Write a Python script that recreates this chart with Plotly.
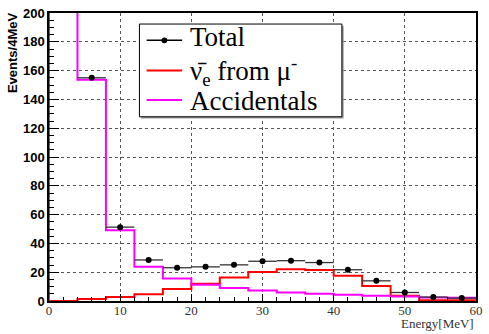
import plotly.graph_objects as go

# Energy binning: 15 bins of 4 MeV from 0 to 60 MeV
bin_edges = [0, 4, 8, 12, 16, 20, 24, 28, 32, 36, 40, 44, 48, 52, 56, 60]

# Events per 4 MeV bin
nue_from_mu = [0.0, 1.4, 2.7, 4.7, 8.4, 12.0, 16.3, 20.1, 22.0, 21.6, 17.6, 10.4, 3.6, 0.6, 0.6]
accidentals = [300.0, 153.7, 49.1, 23.7, 15.6, 11.3, 9.1, 7.3, 5.9, 5.0, 4.3, 3.6, 3.2, 2.4, 2.2]
total = [300.0, 155.0, 51.3, 28.5, 23.1, 23.7, 25.1, 27.6, 28.0, 26.7, 21.7, 14.0, 5.9, 2.7, 2.0]

x_ticks = [0, 10, 20, 30, 40, 50, 60]
y_ticks = [0, 20, 40, 60, 80, 100, 120, 140, 160, 180, 200]

legend_labels = ["Total", "ν\u0304<sub>e</sub> from μ<sup>-</sup>", "Accidentals"]
legend_colors = ["black", "#ff0000", "#ff00ff"]

W, H = 489, 334
ML, MR, MT, MB = 49, 7, 6, 33
PW, PH = W - ML - MR, H - MT - MB

SERIF = "Liberation Serif, Times New Roman, serif"
SANS = "Liberation Sans, Arial, sans-serif"

centers = [(a + b) / 2 for a, b in zip(bin_edges[:-1], bin_edges[1:])]
half_w = [(b - a) / 2 for a, b in zip(bin_edges[:-1], bin_edges[1:])]


def step(vals):
    # outline of a histogram: rises from zero at the first edge, falls to zero at the last
    xs = [bin_edges[0]] + bin_edges
    ys = [0] + list(vals) + [0]
    return xs, ys


def px_x(p):
    return (p - ML) / PW


def px_y(p):
    return (H - MB - p) / PH


fig = go.Figure()

xs, ys = step(nue_from_mu)
fig.add_trace(go.Scatter(x=xs, y=ys, mode="lines", line=dict(color="#ff0000", width=2, shape="hv"),
                         showlegend=False, hoverinfo="skip"))
xs, ys = step(accidentals)
fig.add_trace(go.Scatter(x=xs, y=ys, mode="lines", line=dict(color="#ff00ff", width=2, shape="hv"),
                         showlegend=False, hoverinfo="skip"))
fig.add_trace(go.Scatter(x=centers, y=total, mode="markers",
                         marker=dict(color="black", size=6),
                         error_x=dict(type="data", array=half_w, color="#333333", thickness=1.3, width=0),
                         showlegend=False))

# legend box with drop shadow
shapes = [
    dict(type="rect", xref="paper", yref="paper", x0=px_x(142.5), x1=px_x(347.8), y0=px_y(114), y1=px_y(19),
         fillcolor="#999999", line=dict(width=0), layer="above"),
    dict(type="rect", xref="paper", yref="paper", x0=px_x(140.7), x1=px_x(346), y0=px_y(112.3), y1=px_y(17.3),
         fillcolor="white", line=dict(color="black", width=1), layer="above"),
]
annotations = []
row_y = [34, 65, 95]
text_y = [31, 65, 96]
for lab, col, ry, ty in zip(legend_labels, legend_colors, row_y, text_y):
    shapes.append(dict(type="line", xref="paper", yref="paper", x0=px_x(148), x1=px_x(184),
                       y0=px_y(ry), y1=px_y(ry), line=dict(color=col, width=1.5 if col == "black" else 2),
                       layer="above"))
    annotations.append(dict(text=lab, xref="paper", yref="paper", x=px_x(190), y=px_y(ty),
                            xanchor="left", yanchor="middle", showarrow=False,
                            font=dict(family=SERIF, size=27, color="black")))
# marker on the Total sample line
shapes.append(dict(type="circle", xref="paper", yref="paper", x0=px_x(163), x1=px_x(169),
                   y0=px_y(31), y1=px_y(37), fillcolor="black", line=dict(width=0), layer="above"))

annotations += [
    dict(text="Events/4MeV", xref="paper", yref="paper", x=px_x(12), y=px_y(3),
         xanchor="center", yanchor="top", textangle=-90, showarrow=False,
         font=dict(family=SANS, size=13, color="black", weight="bold")),
    dict(text="Energy[MeV]", xref="paper", yref="paper", x=px_x(482), y=px_y(334),
         xanchor="right", yanchor="bottom", showarrow=False,
         font=dict(family=SERIF, size=13, color="#333333")),
]

fig.update_layout(
    width=W, height=H,
    margin=dict(l=ML, r=MR, t=MT, b=MB),
    paper_bgcolor="white", plot_bgcolor="white",
    shapes=shapes,
    annotations=annotations,
    showlegend=False,
    xaxis=dict(range=[0, 60], tickvals=x_ticks, ticktext=[str(v) for v in x_ticks],
               ticks="inside", ticklen=7, tickwidth=1, tickcolor="black",
               minor=dict(dtick=2, ticks="inside", ticklen=4, tickcolor="black", showgrid=False),
               showgrid=True, gridcolor="#555555", griddash="dot", gridwidth=1,
               showline=True, linecolor="black", linewidth=1.5, mirror=True,
               tickfont=dict(family=SERIF, size=13, color="#333333"),
               ticklabelstandoff=-3,
               zeroline=False),
    yaxis=dict(range=[0, 200], tickvals=y_ticks, ticktext=[str(v) for v in y_ticks],
               ticks="inside", ticklen=10, tickwidth=1, tickcolor="black",
               minor=dict(dtick=5, ticks="inside", ticklen=5, tickcolor="black", showgrid=False),
               showgrid=True, gridcolor="#555555", griddash="dot", gridwidth=1,
               showline=True, linecolor="black", linewidth=1.5, mirror=True,
               tickfont=dict(family=SANS, size=13, color="black", weight="bold"),
               zeroline=False),
)

fig.write_html("out.html")
